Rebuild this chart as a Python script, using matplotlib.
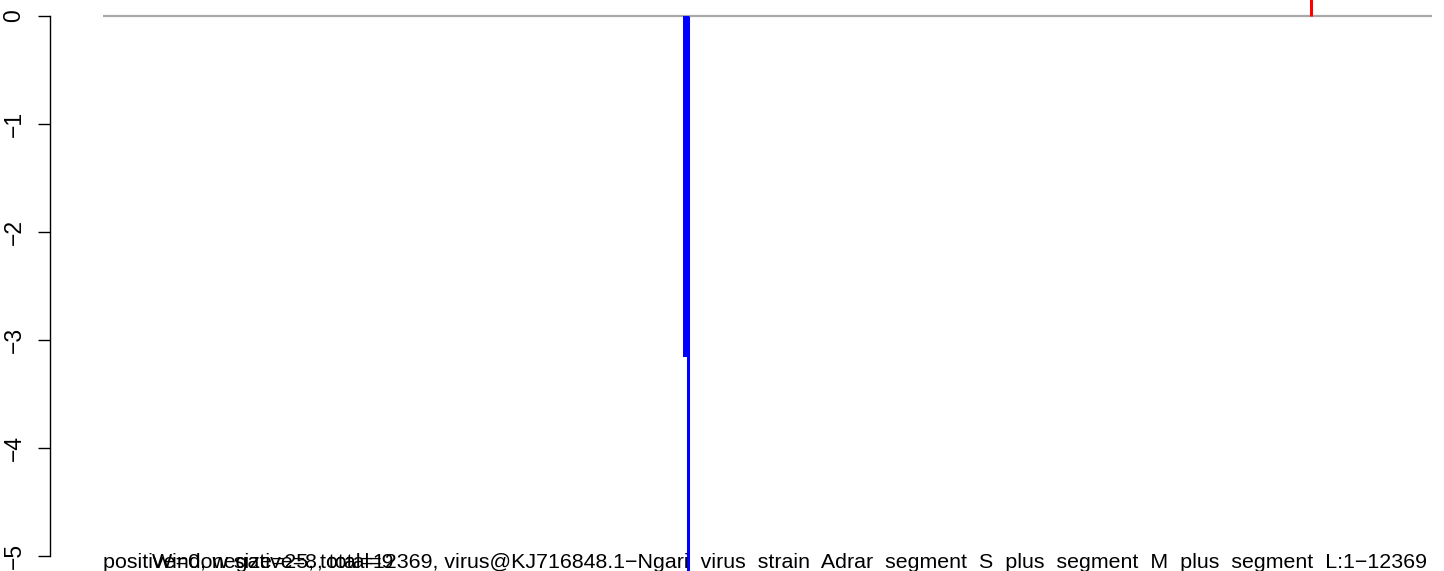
import matplotlib
matplotlib.use("Agg")
import matplotlib.pyplot as plt

plt.rcParams['font.family'] = ['Liberation Sans', 'DejaVu Sans']

# sequence and windows
seq_start = 1
seq_end = 12369
neg_pos = [5427, 5441]
neg_val = [-3.16, -6.0]
neg_lw = [4.3, 2.2]
pos_pos = [11239]
pos_val = [1.0]
yticks = [0, -1, -2, -3, -4, -5]
ylabels = ["0", "\u22121", "\u22122", "\u22123", "\u22124", "\u22125"]
summary = "positive=0, negative=8, total=9"
title = ("Window size=25, total=12369, virus@KJ716848.1\u2212Ngari  virus  strain  Adrar  "
         "segment  S  plus  segment  M  plus  segment  L:1\u221212369")

fig = plt.figure(figsize=(14.44, 5.71), dpi=100)
ax = fig.add_axes([50 / 1444, 0, 1 - 50 / 1444, 1])

ppu = (1432 - 103) / (seq_end - seq_start)   # pixels per position
ax.set_xlim(seq_start - 53 / ppu, seq_end + 12 / ppu)
ax.set_ylim(-5 - 15 / 108, 16 / 108)

ax.hlines(0, seq_start, seq_end, color="#a9a9a9", lw=1.6, zorder=1)
for p, v, w in zip(neg_pos, neg_val, neg_lw):
    ax.vlines(p, v, 0, color="blue", lw=w, zorder=2)
for p, v in zip(pos_pos, pos_val):
    ax.vlines(p, 0, v, color="red", lw=2.2, zorder=2)

for s in ["top", "right", "bottom"]:
    ax.spines[s].set_visible(False)
ax.spines["left"].set_bounds(-5, 0)
ax.spines["left"].set_linewidth(1.0)
ax.set_xticks([])
ax.set_yticks(yticks)
ax.set_yticklabels(ylabels, rotation=90, va="center", fontsize=16.5)
ax.tick_params(axis="y", length=8.6, width=1.0, pad=9)

ax.text(seq_start, -5.11, summary, fontsize=15.4, ha="left", va="baseline")
ax.text(seq_start + 49 / ppu, -5.11, title, fontsize=15.4, ha="left", va="baseline")

fig.savefig("out.png", dpi=100)
